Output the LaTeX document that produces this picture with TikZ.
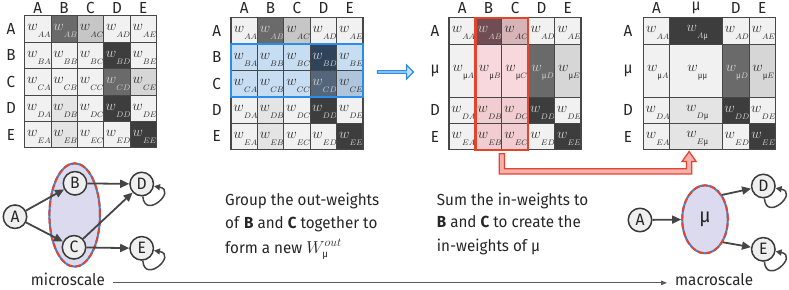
\documentclass[tikz,border=0pt]{standalone}
\usepackage{fontspec}
\setmainfont{Fira Sans}[FakeStretch=0.95]
\usetikzlibrary{arrows.meta,shapes.geometric,shapes.arrows,fit,calc}
\definecolor{gridc}{HTML}{474747}
\definecolor{lt}{HTML}{F1F1F1}
\definecolor{ltt}{HTML}{E4E4E4}
\definecolor{dk}{HTML}{3D3D3D}
\definecolor{md}{HTML}{6A6A6A}
\definecolor{gA}{HTML}{C6C6C6}
\definecolor{gB}{HTML}{D6D6D6}
\definecolor{hlblue}{HTML}{2A8CEB}
\definecolor{bl}{HTML}{C7DDF2}
\definecolor{bdk}{HTML}{2F435A}
\definecolor{bmd}{HTML}{53667C}
\definecolor{bce}{HTML}{AFC5DB}
\definecolor{hlred}{HTML}{E2452B}
\definecolor{pk}{HTML}{F8D8DC}
\definecolor{pkk}{HTML}{F1CDD1}
\definecolor{pab}{HTML}{704D52}
\definecolor{pac}{HTML}{D7B4B8}
\definecolor{pkarrow}{HTML}{F6B0B0}
\definecolor{lav}{HTML}{DCDAEE}
\definecolor{tk}{HTML}{2A2A2A}
\definecolor{tl}{HTML}{D4D4D4}
\definecolor{labc}{HTML}{262626}
\definecolor{nodec}{HTML}{3A3A3A}
\definecolor{nodef}{HTML}{EFEFEF}
\definecolor{edgec}{HTML}{454545}
\definecolor{axisc}{HTML}{5A5A5A}
\newcommand\subw[1]{\raisebox{-7pt}{\fontsize{8.2}{8.2}\selectfont$#1$}}
\newcommand\mus{\hbox{µ}}
\newcommand\wl[1]{$w$\subw{#1}}
\newcommand\cel[8]{%
  \node[cell, fill=#6, minimum width=#4pt, minimum height=#5pt] (#1) at (#2,#3) {};
  \node[wtxt, text=#7] at ([xshift=1.2pt,yshift=-2.3pt]#1.center) {\wl{#8}};}
\newcommand\nc[6]{\cel{#1}{#2}{#3}{26.4}{26.4}{#4}{#5}{#6}}
\begin{document}
\begin{tikzpicture}[x=1pt,y=-1pt,
  cell/.style={draw=gridc, line width=0.8pt, anchor=north west, inner sep=0pt, outer sep=0pt},
  wtxt/.style={inner sep=0pt, font=\fontsize{15}{15}\selectfont},
  lab/.style={font=\fontsize{16}{16}\selectfont, text=labc, inner sep=0pt},
  frame/.style={draw=gridc, line width=1.2pt},
  gnode/.style={circle, draw=nodec, line width=1.5pt, fill=nodef, minimum size=23.5pt, inner sep=0pt, font=\fontsize{16.5}{16.5}\selectfont, text=labc},
  garr/.style={draw=edgec, line width=1.8pt, -{Triangle[length=9pt,width=8pt]}},
  gloop/.style={draw=edgec, line width=1.5pt, -{Triangle[length=6pt,width=6pt]}},
  para/.style={anchor=base west, inner sep=0pt, font=\fontsize{16}{16}\selectfont, text=labc},
  scalelab/.style={inner sep=0pt, font=\fontsize{16}{16}\selectfont, text=labc},
]
\useasboundingbox (0,0) rectangle (789,289);

% ---------------- matrix 1
\nc{m1AA}{24.5}{15.7}{lt}{tk}{AA}\nc{m1AB}{50.9}{15.7}{md}{tl}{AB}\nc{m1AC}{77.3}{15.7}{gA}{tk}{AC}\nc{m1AD}{103.7}{15.7}{lt}{tk}{AD}\nc{m1AE}{130.1}{15.7}{lt}{tk}{AE}
\nc{m1BA}{24.5}{42.1}{lt}{tk}{BA}\nc{m1BB}{50.9}{42.1}{lt}{tk}{BB}\nc{m1BC}{77.3}{42.1}{lt}{tk}{BC}\nc{m1BD}{103.7}{42.1}{dk}{tl}{BD}\nc{m1BE}{130.1}{42.1}{lt}{tk}{BE}
\nc{m1CA}{24.5}{68.5}{lt}{tk}{CA}\nc{m1CB}{50.9}{68.5}{lt}{tk}{CB}\nc{m1CC}{77.3}{68.5}{lt}{tk}{CC}\nc{m1CD}{103.7}{68.5}{md}{tl}{CD}\nc{m1CE}{130.1}{68.5}{gB}{tk}{CE}
\nc{m1DA}{24.5}{94.9}{lt}{tk}{DA}\nc{m1DB}{50.9}{94.9}{ltt}{tk}{DB}\nc{m1DC}{77.3}{94.9}{lt}{tk}{DC}\nc{m1DD}{103.7}{94.9}{dk}{tl}{DD}\nc{m1DE}{130.1}{94.9}{lt}{tk}{DE}
\nc{m1EA}{24.5}{121.3}{lt}{tk}{EA}\nc{m1EB}{50.9}{121.3}{ltt}{tk}{EB}\nc{m1EC}{77.3}{121.3}{lt}{tk}{EC}\nc{m1ED}{103.7}{121.3}{lt}{tk}{ED}\nc{m1EE}{130.1}{121.3}{dk}{tl}{EE}
\draw[frame] (m1AA.north west) rectangle (m1EE.south east);
\foreach \t/\x in {A/37.7,B/64.1,C/90.5,D/116.9,E/143.3} \node[lab] at (\x,8) {\t};
\foreach \t/\y in {A/28.9,B/55.3,C/81.7,D/108.1,E/134.5} \node[lab] at (11,\y) {\t};

% ---------------- matrix 2
\nc{m2AA}{231}{17.5}{lt}{tk}{AA}\nc{m2AB}{257.4}{17.5}{md}{tl}{AB}\nc{m2AC}{283.8}{17.5}{gA}{tk}{AC}\nc{m2AD}{310.2}{17.5}{lt}{tk}{AD}\nc{m2AE}{336.6}{17.5}{lt}{tk}{AE}
\nc{m2BA}{231}{43.9}{bl}{tk}{BA}\nc{m2BB}{257.4}{43.9}{bl}{tk}{BB}\nc{m2BC}{283.8}{43.9}{bl}{tk}{BC}\nc{m2BD}{310.2}{43.9}{bdk}{tl}{BD}\nc{m2BE}{336.6}{43.9}{bl}{tk}{BE}
\nc{m2CA}{231}{70.3}{bl}{tk}{CA}\nc{m2CB}{257.4}{70.3}{bl}{tk}{CB}\nc{m2CC}{283.8}{70.3}{bl}{tk}{CC}\nc{m2CD}{310.2}{70.3}{bmd}{tl}{CD}\nc{m2CE}{336.6}{70.3}{bce}{tk}{CE}
\nc{m2DA}{231}{96.7}{lt}{tk}{DA}\nc{m2DB}{257.4}{96.7}{ltt}{tk}{DB}\nc{m2DC}{283.8}{96.7}{lt}{tk}{DC}\nc{m2DD}{310.2}{96.7}{dk}{tl}{DD}\nc{m2DE}{336.6}{96.7}{lt}{tk}{DE}
\nc{m2EA}{231}{123.1}{lt}{tk}{EA}\nc{m2EB}{257.4}{123.1}{ltt}{tk}{EB}\nc{m2EC}{283.8}{123.1}{lt}{tk}{EC}\nc{m2ED}{310.2}{123.1}{lt}{tk}{ED}\nc{m2EE}{336.6}{123.1}{dk}{tl}{EE}
\draw[frame] (m2AA.north west) rectangle (m2EE.south east);
\node[fit=(m2BA)(m2CE), inner sep=0pt, draw=hlblue, line width=2.2pt] (bluebox) {};
\foreach \t/\x in {A/244.2,B/270.6,C/297,D/323.4,E/349.8} \node[lab] at (\x,8) {\t};
\foreach \t/\y in {A/30.7,B/57.1,C/83.5,D/109.9,E/136.3} \node[lab] at (216.7,\y) {\t};

% blue arrow
\node[single arrow, draw=hlblue, fill=bl, line width=1.2pt, minimum height=36pt, minimum width=14pt, single arrow head extend=3pt, inner sep=0pt] (barrow) at (395,72) {};

% ---------------- matrix 3
\nc{m3AA}{449}{17.7}{lt}{tk}{AA}\nc{m3AB}{475.4}{17.7}{pab}{tl}{AB}\nc{m3AC}{501.8}{17.7}{pac}{tk}{AC}\nc{m3AD}{528.2}{17.7}{lt}{tk}{AD}\nc{m3AE}{554.6}{17.7}{lt}{tk}{AE}
\cel{m3muA}{449}{44.1}{26.4}{52.8}{lt}{tk}{\mus A}\cel{m3muB}{475.4}{44.1}{26.4}{52.8}{pk}{tk}{\mus B}\cel{m3muC}{501.8}{44.1}{26.4}{52.8}{pk}{tk}{\mus C}\cel{m3muD}{528.2}{44.1}{26.4}{52.8}{md}{tl}{\mus D}\cel{m3muE}{554.6}{44.1}{26.4}{52.8}{gB}{tk}{\mus E}
\nc{m3DA}{449}{96.9}{lt}{tk}{DA}\nc{m3DB}{475.4}{96.9}{pkk}{tk}{DB}\nc{m3DC}{501.8}{96.9}{pkk}{tk}{DC}\nc{m3DD}{528.2}{96.9}{dk}{tl}{DD}\nc{m3DE}{554.6}{96.9}{lt}{tk}{DE}
\nc{m3EA}{449}{123.3}{lt}{tk}{EA}\nc{m3EB}{475.4}{123.3}{pkk}{tk}{EB}\nc{m3EC}{501.8}{123.3}{pkk}{tk}{EC}\nc{m3ED}{528.2}{123.3}{lt}{tk}{ED}\nc{m3EE}{554.6}{123.3}{dk}{tl}{EE}
\draw[frame] (m3AA.north west) rectangle (m3EE.south east);
\node[fit=(m3AB)(m3EC), inner sep=0pt, draw=hlred, line width=2.2pt] (redbox) {};
\foreach \t/\x in {A/462.2,B/488.6,C/515,D/541.4,E/567.8} \node[lab] at (\x,8) {\t};
\foreach \t/\y in {A/30.9,µ/70.5,D/110.1,E/136.5} \node[lab] at (435,\y) {\t};

% ---------------- matrix 4
\nc{m4AA}{643.3}{17.7}{lt}{tk}{AA}\cel{m4Amu}{669.7}{17.7}{52.8}{26.4}{dk}{tl}{A\mus}\nc{m4AD}{722.5}{17.7}{lt}{tk}{AD}\nc{m4AE}{748.9}{17.7}{lt}{tk}{AE}
\cel{m4muA}{643.3}{44.1}{26.4}{52.8}{lt}{tk}{\mus A}\cel{m4mumu}{669.7}{44.1}{52.8}{52.8}{lt}{tk}{\mus\mus}\cel{m4muD}{722.5}{44.1}{26.4}{52.8}{md}{tl}{\mus D}\cel{m4muE}{748.9}{44.1}{26.4}{52.8}{gB}{tk}{\mus E}
\nc{m4DA}{643.3}{96.9}{lt}{tk}{DA}\cel{m4Dmu}{669.7}{96.9}{52.8}{26.4}{ltt}{tk}{D\mus}\nc{m4DD}{722.5}{96.9}{dk}{tl}{DD}\nc{m4DE}{748.9}{96.9}{lt}{tk}{DE}
\nc{m4EA}{643.3}{123.3}{lt}{tk}{EA}\cel{m4Emu}{669.7}{123.3}{52.8}{26.4}{ltt}{tk}{E\mus}\nc{m4ED}{722.5}{123.3}{lt}{tk}{ED}\nc{m4EE}{748.9}{123.3}{dk}{tl}{EE}
\draw[frame] (m4AA.north west) rectangle (m4EE.south east);
\foreach \t/\x in {A/656.5,µ/696.1,D/735.7,E/762.1} \node[lab] at (\x,8) {\t};
\foreach \t/\y in {A/30.9,µ/70.5,D/110.1,E/136.5} \node[lab] at (628,\y) {\t};

% red connector (block arrow from redbox to m4Emu)
\coordinate (rstart) at ([yshift=-3pt]redbox.south);
\coordinate (rtip) at ([xshift=-7pt,yshift=-1.8pt]m4Emu.south);
\draw[draw=hlred, fill=pkarrow, line width=1.3pt, line join=miter]
  let \p1=(rstart), \p2=(rtip), \n1={\y1-17.5pt}, \n2={\y2-10pt} in
  (\x1-2.6pt,\y1) -- (\x1-2.6pt,\n1-2.6pt) -- (\x2+2.6pt,\n1-2.6pt) -- (\x2+2.6pt,\n2)
  -- (\x2+7pt,\n2) -- (\x2,\y2) -- (\x2-7pt,\n2) -- (\x2-2.6pt,\n2)
  -- (\x2-2.6pt,\n1+2.6pt) -- (\x1+2.6pt,\n1+2.6pt) -- (\x1+2.6pt,\y1) -- cycle;

% ---------------- micro graph
\node[ellipse, fill=lav, draw=hlblue, line width=2pt, minimum width=50.6pt, minimum height=103.4pt, inner sep=0pt,
  postaction={draw=hlred, line width=2pt, dash pattern=on 6pt off 2.5pt}] (grp) at (74.7,215) {};
\node[gnode] (A) at (15,216.7) {A};
\node[gnode] (B) at (75,183.3) {B};
\node[gnode] (C) at (74,247.3) {C};
\node[gnode] (D) at (141.7,184) {D};
\node[gnode] (E) at (141.7,248.3) {E};
\draw[garr] (A) -- (B);
\draw[garr] (A) -- (C);
\draw[garr] (B) -- (D);
\draw[garr] (C) -- (D);
\draw[garr] (C) -- (E);
\draw[gloop] (D) to[out=-85, in=-10, looseness=4, min distance=10pt] (D);
\draw[gloop] (E) to[out=-85, in=-10, looseness=4, min distance=10pt] (E);

% ---------------- macro graph
\node[ellipse, fill=lav, draw=hlblue, line width=2pt, minimum width=45.6pt, minimum height=68pt, inner sep=0pt,
  font=\fontsize{20}{20}\selectfont, text=labc,
  postaction={draw=hlred, line width=2pt, dash pattern=on 6pt off 2.5pt}] (mu) at (705,219.3) {µ};
\node[gnode] (A2) at (640,220) {A};
\node[gnode] (D2) at (763.3,186) {D};
\node[gnode] (E2) at (763.3,249.3) {E};
\draw[garr] (A2) -- (mu);
\draw[garr] (mu.55) -- (D2);
\draw[garr] (mu.-52) -- (E2);
\draw[gloop] (D2) to[out=-85, in=-10, looseness=4, min distance=10pt] (D2);
\draw[gloop] (E2) to[out=-85, in=-10, looseness=4, min distance=10pt] (E2);

% ---------------- texts
\node[para] (t1a) at (225,205) {Group the out-weights};
\node[para] (t1b) at (225,228) {of \textbf{B} and \textbf{C} together to};
\node[para] (t1c) at (225,253) {form a new\ {\fontsize{17}{17}\selectfont$W^{out}_{\hbox{\fontsize{10}{10}\selectfont µ}}$}};
\node[para] (t2a) at (436.7,205) {Sum the in-weights to};
\node[para] (t2b) at (436.7,227.5) {\textbf{B} and \textbf{C} to create the};
\node[para] (t2c) at (436.7,251.5) {in-weights of µ};

% ---------------- scale axis
\node[scalelab, anchor=base east] (micro) at (105,285.5) {microscale};
\node[scalelab, anchor=base west] (macro) at (675,285.5) {macroscale};
\draw[draw=axisc, line width=1pt, -{Triangle[length=6pt,width=4.5pt]}] ([xshift=8pt]micro.mid east) -- ([xshift=-8pt]macro.mid west);
\end{tikzpicture}
\end{document}
